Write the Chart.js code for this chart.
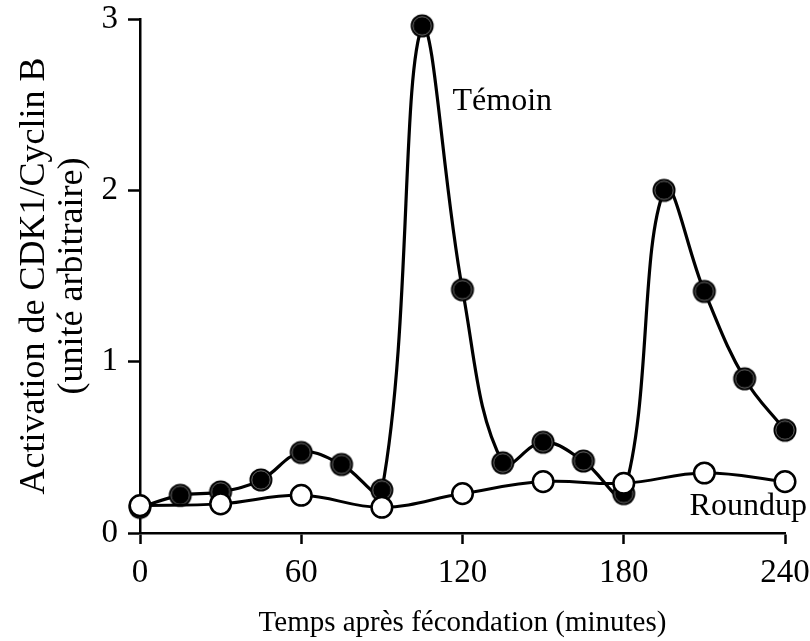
<!DOCTYPE html>
<html>
<head>
<meta charset="utf-8">
<script src="https://cdn.jsdelivr.net/npm/chart.js@4/dist/chart.umd.min.js"></script>
<style>
html,body{margin:0;padding:0;background:#fff;}
#wrap{width:810px;height:641px;}
</style>
</head>
<body>
<div id="wrap"><canvas id="c" width="810" height="641"></canvas></div>
<script>
// ---- data ----
const temoinMinutes = [0, 15, 30, 45, 60, 75, 90, 105, 120, 135, 150, 165, 180, 195, 210, 225, 240];
const temoinValues  = [0.15, 0.22, 0.24, 0.31, 0.47, 0.40, 0.25, 2.96, 1.42, 0.41, 0.53, 0.42, 0.23, 2.00, 1.41, 0.90, 0.60];
const roundupMinutes = [0, 30, 60, 90, 120, 150, 180, 210, 240];
const roundupValues  = [0.16, 0.17, 0.22, 0.15, 0.23, 0.30, 0.29, 0.35, 0.30];
const xTicks = [0, 60, 120, 180, 240];
const yTicks = [0, 1, 2, 3];
const seriesNames = ['Témoin', 'Roundup'];
const xTitle = 'Temps après fécondation (minutes)';
const yTitle = ['Activation de CDK1/Cyclin B', '(unité arbitraire)'];

const FONT = "'Liberation Serif', 'Times New Roman', serif";

// black marker with thin grey inner ring
function blackMarker() {
  const s = 26, c = document.createElement('canvas');
  c.width = s; c.height = s;
  const g = c.getContext('2d');
  g.beginPath(); g.arc(s/2, s/2, 11.5, 0, Math.PI*2); g.fillStyle = '#000'; g.fill();
  g.beginPath(); g.arc(s/2, s/2, 9.2, 0, Math.PI*2); g.strokeStyle = '#8a8a8a'; g.lineWidth = 0.8; g.stroke();
  return c;
}

const toXY = (xs, ys) => xs.map((x, i) => ({x: x, y: ys[i]}));

const labelPlugin = {
  id: 'seriesLabels',
  afterDatasetsDraw(chart) {
    const {ctx, scales: {x, y}} = chart;
    ctx.save();
    ctx.fillStyle = '#000';
    ctx.font = "32px " + FONT;
    ctx.textAlign = 'left';
    ctx.textBaseline = 'alphabetic';
    ctx.fillText(seriesNames[0], x.getPixelForValue(116.3), y.getPixelForValue(2.47));
    ctx.fillText(seriesNames[1], x.getPixelForValue(204.5), y.getPixelForValue(0.105));
    ctx.restore();
  }
};

const noPad = s => { s.paddingTop = 0; s.paddingBottom = 0; s.paddingLeft = 0; s.paddingRight = 0; };

new Chart(document.getElementById('c'), {
  type: 'line',
  data: {
    datasets: [
      {
        label: seriesNames[1],
        data: toXY(roundupMinutes, roundupValues),
        borderColor: '#000', borderWidth: 3,
        backgroundColor: '#fff',
        pointBackgroundColor: '#fff', pointBorderColor: '#000', pointBorderWidth: 2.5,
        pointRadius: 10.3, tension: 0.4, order: 0, clip: false
      },
      {
        label: seriesNames[0],
        data: toXY(temoinMinutes, temoinValues),
        borderColor: '#000', borderWidth: 3.2,
        pointStyle: blackMarker(), pointRadius: 11.5,
        tension: 0.4, order: 1, clip: false
      }
    ]
  },
  options: {
    responsive: false,
    animation: false,
    events: [],
    layout: { padding: { left: 0, right: 25, top: 19, bottom: 0 } },
    plugins: { legend: { display: false }, tooltip: { enabled: false } },
    scales: {
      x: {
        type: 'linear', min: 0, max: 240,
        afterBuildTicks(s) { s.ticks = xTicks.map(v => ({value: v})); },
        afterFit(s) { s.height = 108; noPad(s); },
        ticks: { color: '#000', font: { family: FONT, size: 33 }, padding: 10, maxRotation: 0 },
        grid: { drawOnChartArea: false, drawTicks: true, tickLength: 11, tickWidth: 2.5, tickColor: '#000' },
        border: { color: '#000', width: 2.5 },
        title: { display: true, text: xTitle, color: '#000', font: { family: FONT, size: 29 }, padding: { top: 0, bottom: 0 } }
      },
      y: {
        type: 'linear', min: 0, max: 3,
        afterBuildTicks(s) { s.ticks = yTicks.map(v => ({value: v})); },
        afterFit(s) { s.width = 140; noPad(s); },
        ticks: { color: '#000', font: { family: FONT, size: 33 }, padding: 10 },
        grid: { drawOnChartArea: false, drawTicks: true, tickLength: 12, tickWidth: 2.5, tickColor: '#000' },
        border: { color: '#000', width: 2.5 },
        title: { display: true, text: yTitle, color: '#000', font: { family: FONT, size: 36, lineHeight: 1.05 }, padding: { top: 16, bottom: 0 } }
      }
    }
  },
  plugins: [labelPlugin]
});
</script>
</body>
</html>
